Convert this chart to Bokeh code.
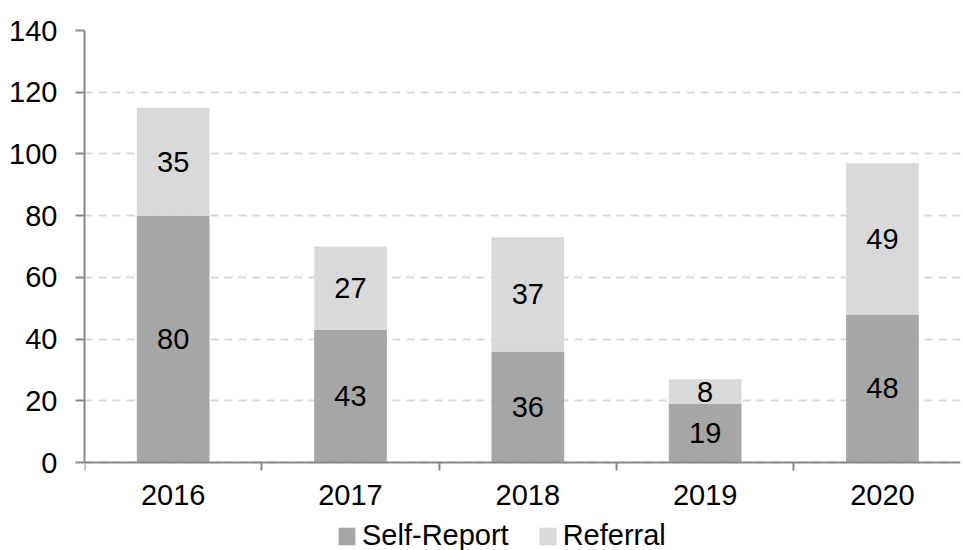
from bokeh.plotting import figure
from bokeh.models import (ColumnDataSource, Range1d, FixedTicker, Legend, LegendItem)
from bokeh.core.properties import value
from bokeh.embed import file_html
from bokeh.resources import INLINE

years = ["2016", "2017", "2018", "2019", "2020"]
self_report = [80, 43, 36, 19, 48]
referral = [35, 27, 37, 8, 49]
y_ticks = [0, 20, 40, 60, 80, 100, 120, 140]

FONT = "Liberation Sans"
FS = "29px"
C_SELF = "#A6A6A6"
C_REF = "#D9D9D9"
AXIS_C = "#898989"

xs = [i + 0.5 for i in range(len(years))]
tops_self = self_report
tops_ref = [a + b for a, b in zip(self_report, referral)]
mid_self = [a / 2 for a in self_report]
mid_ref = [a + b / 2 for a, b in zip(self_report, referral)]

src = ColumnDataSource(dict(x=xs, self=self_report, ref=referral,
                            top_self=tops_self, top_ref=tops_ref,
                            mid_self=mid_self, mid_ref=mid_ref,
                            lab_self=[str(v) for v in self_report],
                            lab_ref=[str(v) for v in referral]))

p = figure(width=963, height=550, output_backend="svg", toolbar_location=None,
           x_range=Range1d(0, 4.94), y_range=Range1d(-28.5, 140),
           min_border_left=84, min_border_right=3, min_border_top=30,
           min_border_bottom=0)
p.outline_line_color = None
p.background_fill_color = "white"
p.border_fill_color = "white"

r1 = p.vbar(x="x", width=0.41, bottom=0, top="top_self", source=src,
            fill_color=C_SELF, line_color=None)
r2 = p.vbar(x="x", width=0.41, bottom="top_self", top="top_ref", source=src,
            fill_color=C_REF, line_color=None)

for col, lab in (("mid_self", "lab_self"), ("mid_ref", "lab_ref")):
    p.text(x="x", y=col, text=lab, source=src, text_align="center",
           text_baseline="middle", text_font=value(FONT),
           text_font_size=FS, text_color="black")

# grid
p.xgrid.visible = False
p.ygrid.ticker = FixedTicker(ticks=y_ticks)
p.ygrid.grid_line_color = C_REF
p.ygrid.grid_line_width = 2
p.ygrid.grid_line_dash = "8 6"

# y axis
ya = p.yaxis[0]
ya.ticker = FixedTicker(ticks=y_ticks)
ya.bounds = (0, 140)
ya.axis_line_color = AXIS_C
ya.axis_line_width = 2
ya.major_tick_line_color = AXIS_C
ya.major_tick_line_width = 2
ya.major_tick_out = 9
ya.major_tick_in = 0
ya.minor_tick_line_color = None
ya.major_label_text_font = FONT
ya.major_label_text_font_size = FS
ya.major_label_text_color = "black"
ya.major_label_standoff = 18

# x axis
xa = p.xaxis[0]
xa.fixed_location = 0
xa.ticker = FixedTicker(ticks=xs, minor_ticks=list(range(len(years) + 1)))
xa.major_label_overrides = {x: y for x, y in zip(xs, years)}
xa.axis_line_color = AXIS_C
xa.axis_line_width = 2
xa.major_tick_line_color = None
xa.major_tick_out = 0
xa.major_tick_in = 0
xa.minor_tick_line_color = AXIS_C
xa.minor_tick_line_width = 2
xa.minor_tick_out = 8
xa.minor_tick_in = 0
xa.major_label_text_font = FONT
xa.major_label_text_font_size = FS
xa.major_label_text_color = "black"
xa.major_label_standoff = 14

legend = Legend(items=[LegendItem(label="Self-Report", renderers=[r1]),
                       LegendItem(label="Referral", renderers=[r2])],
                orientation="horizontal", location=(252, -2),
                glyph_width=21, glyph_height=22, label_standoff=5,
                spacing=28, padding=0, margin=0,
                label_text_font=FONT, label_text_font_size=FS,
                label_text_color="black", border_line_color=None,
                background_fill_alpha=0)
p.add_layout(legend)

open("out.html", "w").write(file_html(p, INLINE))
